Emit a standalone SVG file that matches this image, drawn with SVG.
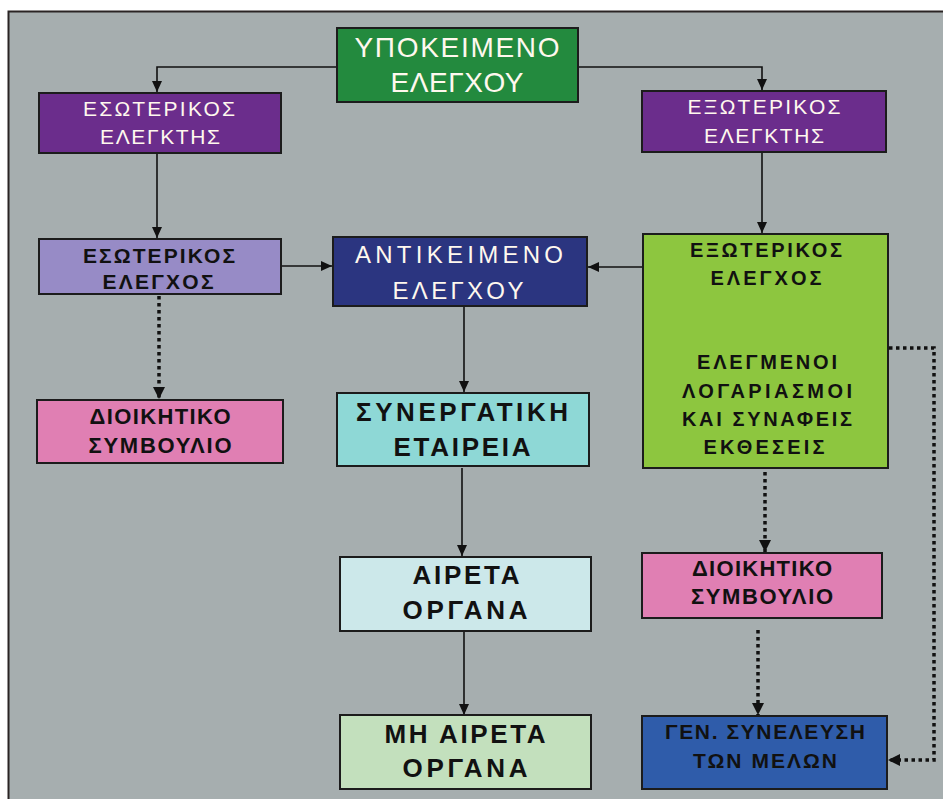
<svg xmlns="http://www.w3.org/2000/svg" width="943" height="799" viewBox="0 0 943 799">
<defs>
<marker id="arr" markerUnits="userSpaceOnUse" markerWidth="12" markerHeight="10" refX="11" refY="5" orient="auto">
<path d="M0,0 L11,5 L0,10 z" fill="#111"/>
</marker>
<marker id="arrd" markerUnits="userSpaceOnUse" markerWidth="13" markerHeight="12" refX="12" refY="6" orient="auto">
<path d="M0,0 L12,6 L0,12 z" fill="#111"/>
</marker>
<style>
.box{stroke:#1c1c1c;stroke-width:2}
.t{font-family:"Liberation Sans",Arial,sans-serif;text-anchor:middle}
.b{font-weight:bold}
.w{fill:#fff8ee}
.k{fill:#111}
.ln{fill:none;stroke:#111;stroke-width:1.6}
.dt{fill:none;stroke:#111;stroke-width:3.5;stroke-dasharray:3.5 3.5}
</style>
</defs>
<rect x="0" y="0" width="943" height="799" fill="#ffffff"/>
<rect x="8.5" y="11.5" width="945" height="800" fill="#a6aeaf" stroke="#2a2424" stroke-width="2"/>

<g id="connectors">
<path class="ln" d="M337,67 H157 V92" marker-end="url(#arr)"/>
<path class="ln" d="M578,67 H762 V90" marker-end="url(#arr)"/>
<path class="ln" d="M157,154 V238" marker-end="url(#arr)"/>
<path class="ln" d="M282,266 H332" marker-end="url(#arr)"/>
<path class="ln" d="M642,267 H588" marker-end="url(#arr)"/>
<path class="ln" d="M762,153 V233" marker-end="url(#arr)"/>
<path class="dt" d="M159,296 V399" marker-end="url(#arrd)"/>
<path class="ln" d="M464,307 V392" marker-end="url(#arr)"/>
<path class="dt" d="M765,472 V552" marker-end="url(#arrd)"/>
<path class="ln" d="M462,468 V556" marker-end="url(#arr)"/>
<path class="ln" d="M464,632 V715" marker-end="url(#arr)"/>
<path class="dt" d="M758,630 V715" marker-end="url(#arrd)"/>
<path class="dt" d="M889,348 H934 V760 H888" marker-end="url(#arrd)"/>
</g>

<g id="ypokeimeno">
<rect class="box" x="337" y="28" width="241" height="74" fill="#238a3e"/>
<text class="t w" x="457" y="57" font-size="28" textLength="205">ΥΠΟΚΕΙΜΕΝΟ</text>
<text class="t w" x="457" y="92" font-size="28" textLength="133">ΕΛΕΓΧΟΥ</text>
</g>

<g id="esoterikos-elegktis">
<rect class="box" x="39" y="93" width="242" height="60" fill="#6b2d8c"/>
<text class="t w" x="159" y="116" font-size="21" textLength="152">ΕΣΩΤΕΡΙΚΟΣ</text>
<text class="t w" x="160" y="144" font-size="21" textLength="120">ΕΛΕΓΚΤΗΣ</text>
</g>

<g id="exoterikos-elegktis">
<rect class="box" x="642" y="91" width="244" height="61" fill="#6b2d8c"/>
<text class="t w" x="764" y="114" font-size="21" textLength="153">ΕΞΩΤΕΡΙΚΟΣ</text>
<text class="t w" x="764" y="143" font-size="21" textLength="120">ΕΛΕΓΚΤΗΣ</text>
</g>

<g id="esoterikos-elegxos">
<rect class="box" x="39" y="239" width="242" height="55" fill="#978bc6"/>
<text class="t k b" x="159" y="263" font-size="21" textLength="152">ΕΣΩΤΕΡΙΚΟΣ</text>
<text class="t k b" x="158" y="289" font-size="21" textLength="111">ΕΛΕΓΧΟΣ</text>
</g>

<g id="antikeimeno">
<rect class="box" x="333" y="237" width="254" height="69" fill="#2b3580"/>
<text class="t w" x="459" y="263" font-size="24" textLength="208">ΑΝΤΙΚΕΙΜΕΝΟ</text>
<text class="t w" x="458" y="299" font-size="24" textLength="131">ΕΛΕΓΧΟΥ</text>
</g>

<g id="exoterikos-elegxos">
<rect class="box" x="643" y="234" width="245" height="234" fill="#8dc63f"/>
<text class="t k b" x="766" y="257" font-size="20" textLength="152">ΕΞΩΤΕΡΙΚΟΣ</text>
<text class="t k b" x="766" y="285" font-size="20" textLength="111">ΕΛΕΓΧΟΣ</text>
<text class="t k b" x="767" y="369" font-size="20" textLength="140">ΕΛΕΓΜΕΝΟΙ</text>
<text class="t k b" x="767" y="398" font-size="20" textLength="170">ΛΟΓΑΡΙΑΣΜΟΙ</text>
<text class="t k b" x="767" y="426" font-size="20" textLength="170">ΚΑΙ ΣΥΝΑΦΕΙΣ</text>
<text class="t k b" x="764" y="454" font-size="20" textLength="121">ΕΚΘΕΣΕΙΣ</text>
</g>

<g id="dioikitiko-1">
<rect class="box" x="37" y="400" width="246" height="63" fill="#e07fb3"/>
<text class="t k b" x="160" y="424" font-size="22" textLength="141">ΔΙΟΙΚΗΤΙΚΟ</text>
<text class="t k b" x="160" y="453" font-size="22" textLength="143">ΣΥΜΒΟΥΛΙΟ</text>
</g>

<g id="synergatiki">
<rect class="box" x="337" y="393" width="252" height="73" fill="#8ed8d6"/>
<text class="t k b" x="462" y="421" font-size="26" textLength="212">ΣΥΝΕΡΓΑΤΙΚΗ</text>
<text class="t k b" x="462" y="456" font-size="26" textLength="137">ΕΤΑΙΡΕΙΑ</text>
</g>

<g id="aireta">
<rect class="box" x="340" y="557" width="251" height="74" fill="#cce8ea"/>
<text class="t k b" x="466" y="584" font-size="26" textLength="107">ΑΙΡΕΤΑ</text>
<text class="t k b" x="465" y="619" font-size="26" textLength="125">ΟΡΓΑΝΑ</text>
</g>

<g id="mi-aireta">
<rect class="box" x="340" y="715" width="251" height="74" fill="#c3e0bd"/>
<text class="t k b" x="465" y="743" font-size="26" textLength="161">ΜΗ ΑΙΡΕΤΑ</text>
<text class="t k b" x="465" y="777" font-size="26" textLength="125">ΟΡΓΑΝΑ</text>
</g>

<g id="dioikitiko-2">
<rect class="box" x="642" y="553" width="240" height="65" fill="#e07fb3"/>
<text class="t k b" x="762" y="576" font-size="22" textLength="140">ΔΙΟΙΚΗΤΙΚΟ</text>
<text class="t k b" x="762" y="604" font-size="22" textLength="142">ΣΥΜΒΟΥΛΙΟ</text>
</g>

<g id="gen-synelefsi">
<rect class="box" x="642" y="716" width="245" height="73" fill="#2f5caa"/>
<text class="t k b" x="765" y="739" font-size="21" textLength="200">ΓΕΝ. ΣΥΝΕΛΕΥΣΗ</text>
<text class="t k b" x="765" y="768" font-size="21" textLength="144">ΤΩΝ ΜΕΛΩΝ</text>
</g>
</svg>
